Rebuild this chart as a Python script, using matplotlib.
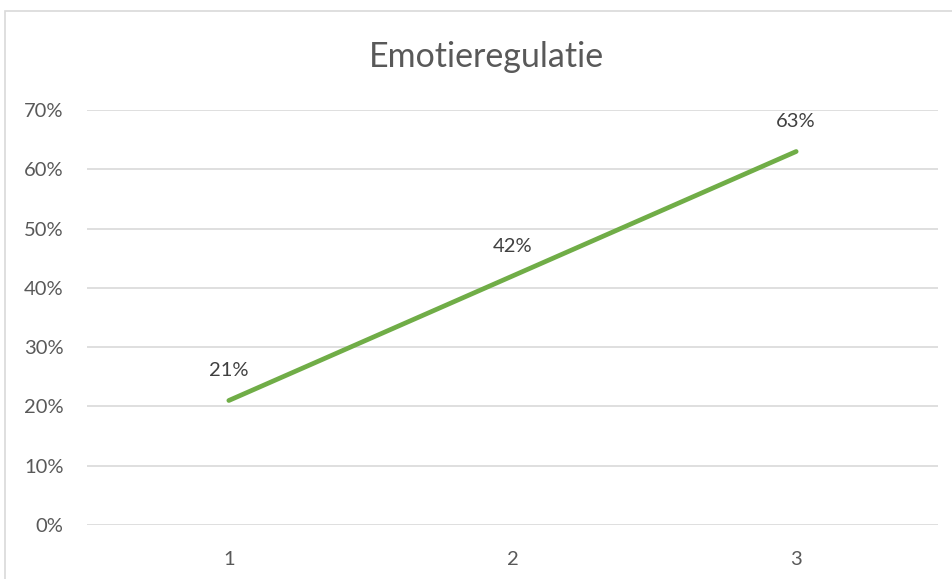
import matplotlib.pyplot as plt
from matplotlib.patches import Rectangle
from matplotlib.ticker import PercentFormatter

# gegevens
categories = ["1", "2", "3"]
values = [0.21, 0.42, 0.63]
y_ticks = [0, 0.1, 0.2, 0.3, 0.4, 0.5, 0.6, 0.7]

plt.rcParams['font.family'] = ['Lato', 'DejaVu Sans']

fig = plt.figure(figsize=(9.53, 5.79), dpi=100)
ax = fig.add_axes([87 / 953, 54 / 579, 851 / 953, 415 / 579])

# rand van de grafiek
fig.patches.append(Rectangle((5 / 953, -0.1), 1.2, (579 - 11) / 579 + 0.1,
                             transform=fig.transFigure, fill=False,
                             edgecolor='#D9D9D9', linewidth=1.2))

x = range(1, len(categories) + 1)
ax.plot(x, values, color='#70AD47', linewidth=3.4, solid_capstyle='round', zorder=3)

for xi, v in zip(x, values):
    ax.annotate(f"{v:.0%}", (xi, v), xytext=(0, 21.5), textcoords='offset points',
                ha='center', va='center', fontsize=14.5, color='#404040')

ax.set_xlim(0.5, 3.5)
ax.set_ylim(0, 0.7)
ax.set_xticks(list(x))
ax.set_xticklabels(categories)
ax.set_yticks(y_ticks)
ax.yaxis.set_major_formatter(PercentFormatter(1.0, decimals=0))
ax.tick_params(axis='both', length=0, labelsize=14.5, labelcolor='#595959')
ax.tick_params(axis='y', pad=17)
ax.tick_params(axis='x', pad=19)
ax.grid(axis='y', color='#D9D9D9', linewidth=1.2)
ax.set_axisbelow(True)
for s in ax.spines.values():
    s.set_visible(False)

fig.text(486 / 953, 1 - 57 / 579, "Emotieregulatie", ha='center', va='center',
         fontsize=24.5, color='#595959')

fig.savefig("out.png", dpi=100)
